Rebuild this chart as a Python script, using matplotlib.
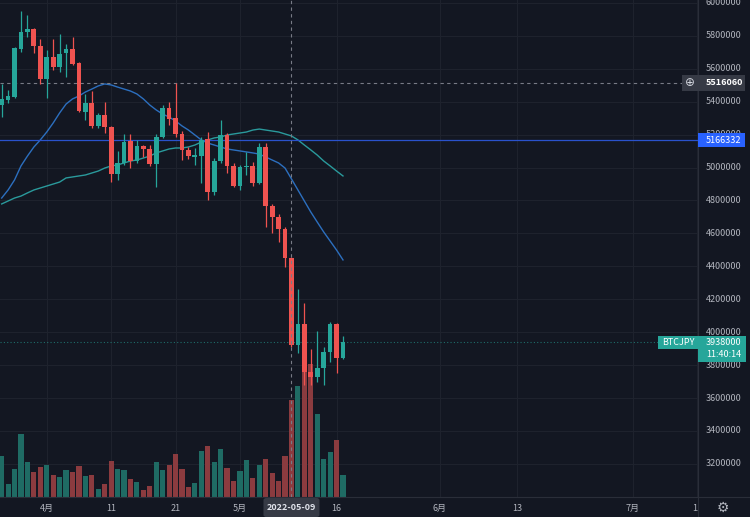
import numpy as np
import matplotlib
matplotlib.use('Agg')
import matplotlib.pyplot as plt
import matplotlib.dates as mdates
from matplotlib.patches import Rectangle, FancyBboxPatch

plt.rcParams['font.family'] = ['Noto Sans CJK JP', 'DejaVu Sans']

# daily BTCJPY candles, 2022-03-25 .. 2022-05-17
dates = np.arange(np.datetime64('2022-03-25'), np.datetime64('2022-05-18'))
opens = [5380000, 5410000, 5429000, 5720000, 5824000, 5842000, 5739000, 5538000, 5672000, 5611000,
         5696000, 5720000, 5635000, 5338000, 5392000, 5253000, 5319000, 5246000, 4961000, 5028000,
         5161000, 5040000, 5131000, 5113000, 5022000, 5186000, 5362000, 5301000, 5204000, 5107000,
         5064000, 5070000, 5174000, 4852000, 5040000, 5198000, 5010000, 4888000, 5003000, 5010000,
         4906000, 5125000, 4767000, 4700000, 4627000, 4451000, 3922000, 4050000, 3758000, 3728000,
         3782000, 3880000, 4050000, 3843000]
highs = [5508000, 5471000, 5732000, 5951000, 5927000, 5848000, 5781000, 5714000, 5781000, 5811000,
         5751000, 5793000, 5641000, 5447000, 5465000, 5332000, 5398000, 5253000, 5101000, 5204000,
         5204000, 5168000, 5137000, 5137000, 5204000, 5380000, 5398000, 5514000, 5222000, 5125000,
         5119000, 5186000, 5216000, 5058000, 5289000, 5210000, 5028000, 5016000, 5095000, 5034000,
         5149000, 5149000, 4779000, 4718000, 4639000, 4457000, 4262000, 4177000, 3898000, 4007000,
         3910000, 4062000, 4056000, 3977000]
lows = [5307000, 5392000, 5423000, 5702000, 5793000, 5696000, 5508000, 5423000, 5593000, 5581000,
        5550000, 5623000, 5338000, 5289000, 5240000, 5240000, 5210000, 4912000, 4925000, 5016000,
        4997000, 5028000, 5064000, 5010000, 4882000, 5180000, 5259000, 5186000, 5046000, 5052000,
        5016000, 4906000, 4803000, 4833000, 5028000, 4967000, 4882000, 4864000, 4955000, 4888000,
        4900000, 4639000, 4603000, 4548000, 4396000, 3910000, 3874000, 3679000, 3679000, 3697000,
        3679000, 3819000, 3752000, 3837000]
closes = [5417000, 5435000, 5726000, 5824000, 5842000, 5739000, 5538000, 5672000, 5611000, 5690000,
          5720000, 5629000, 5344000, 5392000, 5253000, 5319000, 5246000, 4961000, 5028000, 5155000,
          5040000, 5131000, 5113000, 5022000, 5186000, 5362000, 5295000, 5204000, 5107000, 5070000,
          5076000, 5168000, 4852000, 5040000, 5198000, 5010000, 4888000, 5003000, 5010000, 4906000,
          5125000, 4767000, 4700000, 4627000, 4451000, 3922000, 4050000, 3758000, 3728000, 3782000,
          3880000, 4050000, 3843000, 3938000]
volumes = [407, 133, 283, 633, 350, 253, 303, 317, 217, 200,
           267, 247, 307, 207, 217, 83, 130, 363, 280, 273,
           183, 153, 73, 113, 347, 267, 317, 433, 283, 100,
           140, 457, 513, 350, 480, 293, 157, 257, 370, 193,
           323, 380, 240, 157, 413, 973, 1106, 1323, 1330, 830,
           383, 450, 567, 217]
ma_fast = [4815000, 4864000, 4925000, 5010000, 5070000, 5125000, 5168000, 5216000, 5271000, 5332000,
           5386000, 5417000, 5435000, 5459000, 5477000, 5496000, 5508000, 5502000, 5489000, 5477000,
           5465000, 5447000, 5417000, 5380000, 5350000, 5325000, 5307000, 5283000, 5253000, 5228000,
           5198000, 5168000, 5149000, 5137000, 5125000, 5113000, 5107000, 5101000, 5095000, 5089000,
           5082000, 5064000, 5046000, 5028000, 4997000, 4931000, 4864000, 4797000, 4730000, 4669000,
           4609000, 4554000, 4499000, 4439000]
ma_slow = [4779000, 4797000, 4815000, 4827000, 4846000, 4864000, 4876000, 4888000, 4900000, 4912000,
           4937000, 4943000, 4949000, 4955000, 4967000, 4979000, 4997000, 5010000, 5016000, 5028000,
           5040000, 5046000, 5058000, 5070000, 5089000, 5101000, 5113000, 5119000, 5119000, 5125000,
           5137000, 5155000, 5168000, 5180000, 5186000, 5198000, 5204000, 5210000, 5216000, 5228000,
           5234000, 5228000, 5222000, 5216000, 5204000, 5192000, 5168000, 5137000, 5107000, 5076000,
           5040000, 5010000, 4979000, 4949000]

price_ticks = list(range(3200000, 6000001, 200000))
date_ticks = ['2022-04-01', '2022-04-11', '2022-04-21', '2022-05-01', '2022-05-16',
              '2022-06-01', '2022-06-13', '2022-07-01', '2022-07-11']
date_labels = ['4月', '11', '21', '5月', '16', '6月', '13', '7月', '11']
cross_date = '2022-05-09'
cross_price = 5516060
line_price = 5166332
symbol = 'BTCJPY'
last_price = 3938000
last_time = '11:40:14'

bg = '#131722'
grid_c = '#1e222d'
txt_c = '#b2b5be'
up_c, down_c = '#26a69a', '#ef5350'
up_v, down_v = '#1f6b64', '#8b3b3f'

W, H = 750, 517
fig = plt.figure(figsize=(W / 100, H / 100), dpi=100, facecolor=bg)
ax = fig.add_axes([0, 20 / H, 698 / W, 497 / H])
vax = ax.twinx()
ax.set_zorder(vax.get_zorder() + 1)
ax.patch.set_visible(False)
vax.set_facecolor(bg)

x = mdates.date2num(dates)
o, h, l, c = map(np.array, (opens, highs, lows, closes))
up = c >= o
col = np.where(up, up_c, down_c)

x0 = x[0] - 0.26
ax.set_xlim(x0, x0 + 698 / 6.44)
ax.set_ylim(2998725, 6018000)

# grid behind the volume bars
for p in price_ticks:
    vax.plot([x0, x0 + 200], [p, p], color=grid_c, lw=0.8, transform=ax.transData, zorder=0)
for d in date_ticks:
    dn = mdates.date2num(np.datetime64(d))
    vax.plot([dn, dn], [2900000, 6100000], color=grid_c, lw=0.8, transform=ax.transData, zorder=0)

vax.bar(x, volumes, width=0.8, color=np.where(up, up_v, down_v), zorder=1)
vax.set_ylim(0, 4970)
vax.axis('off')

ax.plot(x, ma_slow, color='#2a9a9c', lw=1.0, zorder=2)
ax.plot(x, ma_fast, color='#2c6fbf', lw=1.0, zorder=2)
ax.axhline(line_price, color='#2a52cc', lw=0.9, zorder=2)
ax.axhline(last_price, color=up_c, lw=0.8, ls=(0, (1, 2)), alpha=0.6, zorder=2)
ax.axhline(cross_price, color='#787b86', lw=0.8, ls=(0, (3, 3)), zorder=2)
cx = mdates.date2num(np.datetime64(cross_date))
ax.axvline(cx, color='#787b86', lw=0.8, ls=(0, (3, 3)), zorder=4)

ax.vlines(x, l, h, colors=col, lw=0.9, zorder=3)
body = np.maximum(np.abs(c - o), 9000)
ax.bar(x, body, bottom=np.minimum(o, c), width=0.74, color=col, zorder=3)

ax.set_yticks([])
ax.set_xticks([mdates.date2num(np.datetime64(d)) for d in date_ticks])
ax.set_xticklabels(date_labels)
ax.tick_params(axis='x', length=0, pad=5, colors=txt_c, labelsize=6.5)
for s in ['top', 'right', 'left']:
    ax.spines[s].set_visible(False)
ax.spines['bottom'].set_color('#2a2e39')

# price scale panel, drawn over the main axes
pax = fig.add_axes([698 / W, 0, 52 / W, 1])
pax.set_zorder(3)
pax.set_facecolor(bg)
pax.set_xlim(0, 52)
pax.set_ylim(H, 0)
pax.set_xticks([])
pax.set_yticks([])
for s in ['top', 'right', 'bottom']:
    pax.spines[s].set_visible(False)
pax.spines['left'].set_color('#2a2e39')
pax.axhline(497, color='#2a2e39', lw=0.8)

inv = fig.transFigure.inverted()
def py(price):
    return H * (1 - inv.transform(ax.transData.transform((0, price)))[1])

for p in price_ticks:
    pax.text(8, py(p), str(p), ha='left', va='center', fontsize=6.5, color=txt_c)
pax.text(25, 508, '\u2699', ha='center', va='center', fontsize=10, color=txt_c,
         family='DejaVu Sans')

def fig_box(x0p, x1p, yc, hh, fc):
    fig.add_artist(Rectangle((x0p / W, 1 - (yc + hh) / H), (x1p - x0p) / W, 2 * hh / H,
                             transform=fig.transFigure, fc=fc, ec='none', zorder=5))

def fig_text(xp, yp, s, size=6.5, **kw):
    fig.text(xp / W, 1 - yp / H, s, va='center', fontsize=size, zorder=6, **kw)

# crosshair date label
cxp = W * inv.transform(ax.transData.transform((cx, 0)))[0]
fig.add_artist(FancyBboxPatch(((cxp - 28) / W, 0), 56 / W, 19 / H,
                              boxstyle='round,pad=0,rounding_size=0.004',
                              transform=fig.transFigure, fc='#363a45', ec='none', zorder=5))
fig_text(cxp, 507.5, cross_date, ha='center', color='#e0e3eb', fontweight='bold')

yc = py(cross_price)
fig_box(682, 745, yc, 8, '#363a45')
fig_text(690, yc, '\u2295', size=8.5, ha='center', color='#d1d4dc', family='DejaVu Sans')
fig_text(706, yc, str(cross_price), ha='left', color='white', fontweight='bold')

yb = py(line_price)
fig_box(698, 745, yb, 7, '#2962ff')
fig_text(706, yb, str(line_price), ha='left', color='white')

yl = py(last_price)
fig_box(658, 698, yl, 6.5, up_c)
fig_box(698, 746, yl + 6.5, 13, up_c)
fig_text(662, yl, symbol, ha='left', color='white')
fig_text(706, yl, str(last_price), ha='left', color='white')
fig_text(706, yl + 12.5, last_time, ha='left', color='white')

fig.savefig('out.png', dpi=100, facecolor=bg)
